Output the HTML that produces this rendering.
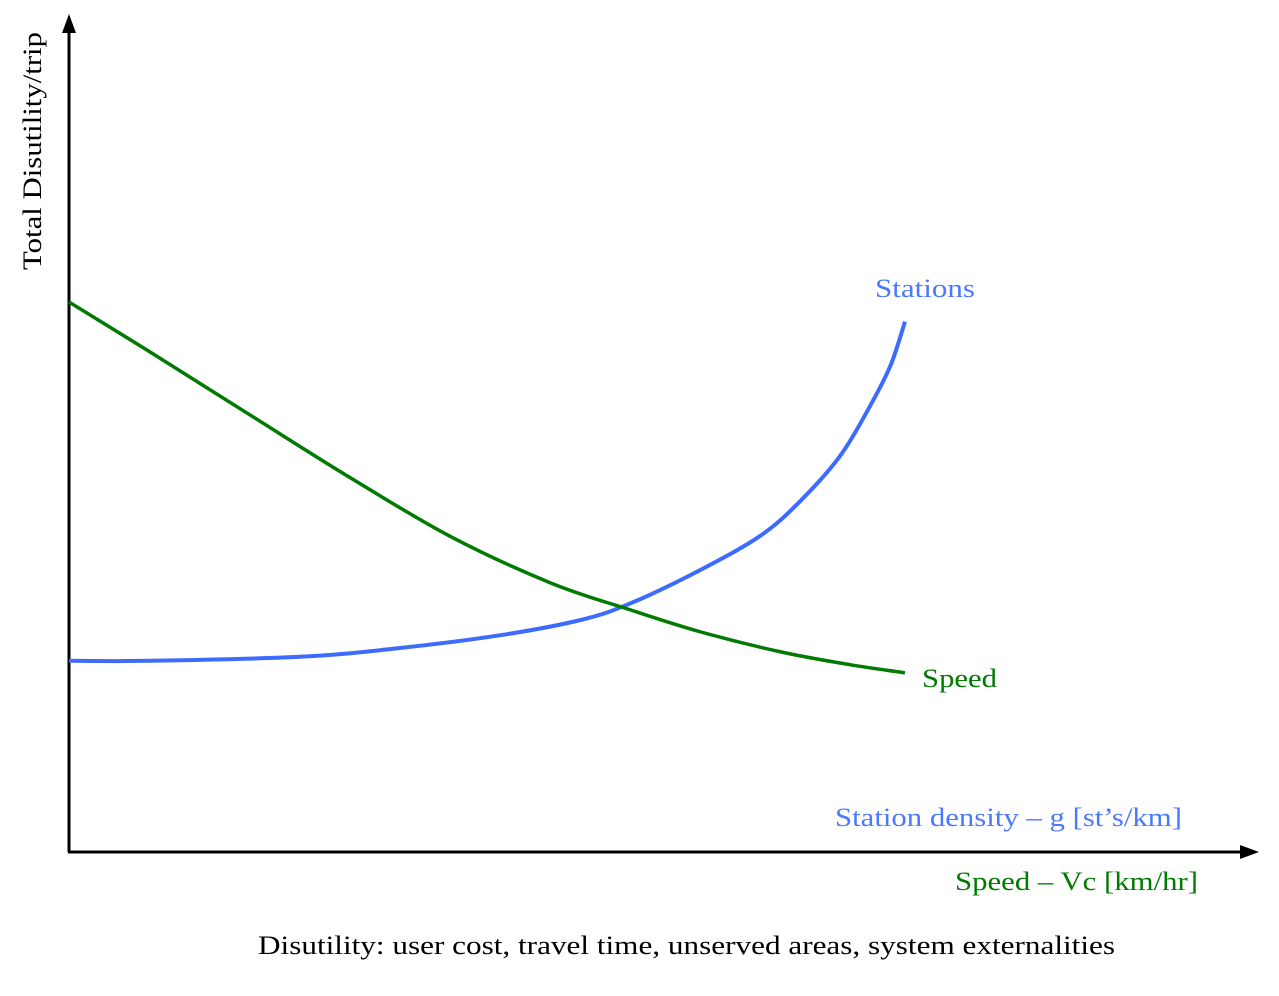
<!DOCTYPE html>
<html><head><meta charset="utf-8"><style>
html,body{margin:0;padding:0;background:#fff;}
svg{display:block;font-family:"Liberation Serif",serif;}
</style></head><body>
<svg width="1279" height="996" viewBox="0 0 1279 996">
<g id="axes">
<line x1="69" y1="852" x2="69" y2="28" stroke="#000" stroke-width="3"/>
<polygon points="69,14 62,33 76,33" fill="#000"/>
<line x1="68" y1="852" x2="1245" y2="852" stroke="#000" stroke-width="3"/>
<polygon points="1259,852 1240,845 1240,859" fill="#000"/>
</g>
<text x="0" y="0" transform="translate(41,270) rotate(-90)" font-size="26" fill="#000" textLength="238" lengthAdjust="spacingAndGlyphs">Total Disutility/trip</text>
<text x="835" y="826" font-size="26" fill="#4a78ff" textLength="347" lengthAdjust="spacingAndGlyphs">Station density – g [st’s/km]</text>
<text x="955" y="890" font-size="26" fill="#007a00" textLength="243" lengthAdjust="spacingAndGlyphs">Speed – Vc [km/hr]</text>
<text x="258" y="954" font-size="26" fill="#000" textLength="857" lengthAdjust="spacingAndGlyphs">Disutility: user cost, travel time, unserved areas, system externalities</text>
<text x="875" y="297" font-size="26" fill="#4a78ff" textLength="100" lengthAdjust="spacingAndGlyphs">Stations</text>
<text x="922" y="687" font-size="26" fill="#007a00" textLength="75" lengthAdjust="spacingAndGlyphs">Speed</text>
<g id="plot"></g>
</svg>
<script>
const stationsX=[0,9.7,27.6,39.6,51.6,61.2,67.2,75.6,82.8,87.6,92.3,95.9,98.3,100];
const stationsY=[23.9,23.9,24.4,25.5,27.1,29,31.1,35.3,39.6,44,49.6,55.9,60.9,66.3];
const speedX=[0,9.7,21.7,33.7,45.7,57.7,67.2,75.6,85.2,93.5,100];
const speedY=[68.75,62.5,54.6,46.75,39.4,33.6,30.25,27.5,25,23.4,22.4];
function sx(v){return 69+v*8.36;}
function sy(v){return 852-v*8;}
function path(xs,ys){
  const p=xs.map((x,i)=>[sx(x),sy(ys[i])]);
  let d='M'+p[0][0]+','+p[0][1];
  for(let i=0;i<p.length-1;i++){
    const p0=p[i-1]||p[i],p1=p[i],p2=p[i+1],p3=p[i+2]||p2;
    const c1=[p1[0]+(p2[0]-p0[0])/6,p1[1]+(p2[1]-p0[1])/6];
    const c2=[p2[0]-(p3[0]-p1[0])/6,p2[1]-(p3[1]-p1[1])/6];
    d+=' C'+c1+' '+c2+' '+p2;
  }
  return d;
}
const g=document.getElementById('plot');
const ns='http://www.w3.org/2000/svg';
const a=document.createElementNS(ns,'path');
a.setAttribute('d',path(stationsX,stationsY));
a.setAttribute('fill','none');a.setAttribute('stroke','#3d6bff');a.setAttribute('stroke-width','4');


g.appendChild(a);
const b=document.createElementNS(ns,'path');
b.setAttribute('d',path(speedX,speedY));
b.setAttribute('fill','none');b.setAttribute('stroke','#007a00');b.setAttribute('stroke-width','3.5');


g.appendChild(b);
</script>
</body></html>
